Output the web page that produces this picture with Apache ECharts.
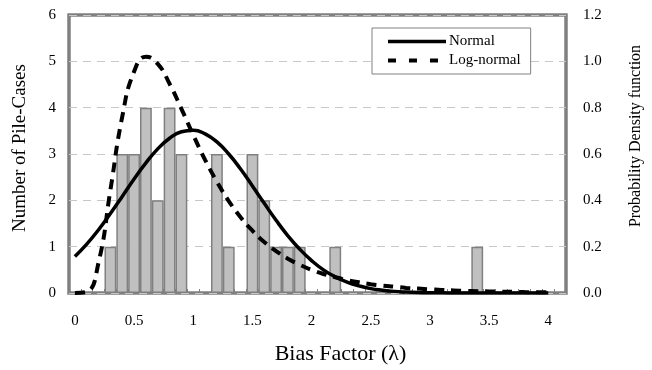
<!DOCTYPE html>
<html>
<head>
<meta charset="utf-8">
<script src="https://cdn.jsdelivr.net/npm/echarts@6/dist/echarts.min.js"></script>
<style>html,body{margin:0;padding:0;background:#fff;}#c{width:652px;height:370px;}</style>
</head>
<body>
<div id="c"></div>
<script>
// Bin categories (Bias factor, bin centres)
var categories = ["0","0.1","0.2","0.3","0.4","0.5","0.6","0.7","0.8","0.9",
  "1","1.1","1.2","1.3","1.4","1.5","1.6","1.7","1.8","1.9",
  "2","2.1","2.2","2.3","2.4","2.5","2.6","2.7","2.8","2.9",
  "3","3.1","3.2","3.3","3.4","3.5","3.6","3.7","3.8","3.9","4","4.1"];
// Histogram counts (Number of Pile-Cases)
var counts = [0,0,0,1,3,3,4,2,4,3,
  0,0,3,1,0,3,2,1,1,1,
  0,0,1,0,0,0,0,0,0,0,
  0,0,0,0,1,0,0,0,0,0,0,0];
// Probability density curves read at each bin centre (0 .. 4.0)
var normalPdf = [0.158,0.211,0.273,0.343,0.417,0.492,0.562,0.622,0.668,0.696,
  0.703,0.687,0.652,0.600,0.535,0.462,0.387,0.314,0.247,0.189,
  0.140,0.100,0.070,0.047,0.031,0.019,0.012,0.007,0.004,0.002,
  0.001,0.001,0,0,0,0,0,0,0,0,0];
var lognormalPdf = [0,0.005,0.132,0.445,0.761,0.956,1.020,0.989,0.903,0.795,
  0.682,0.575,0.480,0.397,0.327,0.269,0.220,0.181,0.148,0.122,
  0.100,0.082,0.068,0.056,0.046,0.038,0.032,0.027,0.022,0.019,
  0.016,0.013,0.011,0.009,0.008,0.007,0.006,0.005,0.004,0.0035,0.003];
var leftTicks = [0,1,2,3,4,5,6];
var rightTicks = [0,0.2,0.4,0.6,0.8,1.0,1.2];

var font = 'Liberation Serif';
var barData = counts.map(function (c) { return c === 0 ? '-' : c; });
var chart = echarts.init(document.getElementById('c'));
chart.setOption({
  animation: false,
  backgroundColor: '#fff',
  grid: {left: 69, right: 83, top: 15, bottom: 73, show: true,
    borderColor: '#808080', borderWidth: 3.5, backgroundColor: 'transparent'},
  legend: {
    left: 372, top: 28, orient: 'vertical',
    data: [
      {name: 'Normal', lineStyle: {width: 3.5, type: 'solid', color: '#000'}},
      {name: 'Log-normal', lineStyle: {width: 4, type: [8, 13], color: '#000'}}
    ],
    itemWidth: 58, itemHeight: 14, itemGap: 4,
    padding: [6, 10, 6, 14],
    backgroundColor: '#fff', borderColor: '#808080', borderWidth: 1,
    itemStyle: {opacity: 0},
    textStyle: {fontFamily: font, fontSize: 15, color: '#000', padding: [0,0,0,-2]}
  },
  xAxis: {
    type: 'category', data: categories,
    name: 'Bias Factor (\u03bb)', nameLocation: 'middle', nameGap: 50,
    nameTextStyle: {fontFamily: font, fontSize: 22, color: '#000', padding: [0, 0, 0, 46]},
    axisLine: {show: false},
    axisTick: {show: true, inside: true, interval: 0, length: 4, lineStyle: {color: '#808080', width: 1}},
    axisLabel: {interval: 4, fontFamily: font, fontSize: 15, color: '#000', margin: 21},
    splitLine: {show: false}
  },
  yAxis: [{
    type: 'value', min: leftTicks[0], max: leftTicks[leftTicks.length-1], interval: 1,
    name: 'Number of Pile-Cases', nameLocation: 'middle', nameGap: 39,
    nameTextStyle: {fontFamily: font, fontSize: 19, color: '#000', padding: [0, 0, 0, 12]},
    axisLine: {show: false}, axisTick: {show: false},
    axisLabel: {fontFamily: font, fontSize: 15, color: '#000', margin: 13},
    splitLine: {show: true, lineStyle: {color: '#c8c8c8', type: [8, 6], width: 1}}
  }, {
    type: 'value', min: rightTicks[0], max: rightTicks[rightTicks.length-1], interval: 0.2,
    position: 'right',
    name: 'Probability Density function', nameLocation: 'middle', nameGap: 62, nameRotate: 90,
    nameTextStyle: {fontFamily: font, fontSize: 16, color: '#000', padding: [0, 0, 0, 36]},
    axisLine: {show: false}, axisTick: {show: false},
    axisLabel: {fontFamily: font, fontSize: 15, color: '#000', margin: 17,
      formatter: function (v) { return v.toFixed(1); }},
    splitLine: {show: false}
  }],
  series: [{
    type: 'bar', data: barData, yAxisIndex: 0,
    barWidth: '100%',
    itemStyle: {color: '#c0c0c0', borderColor: '#808080', borderWidth: 1.5},
    z: 2
  }, {
    name: 'Normal', type: 'line', data: normalPdf, yAxisIndex: 1,
    smooth: true, symbol: 'none', showSymbol: false,
    lineStyle: {color: '#000', width: 3.5, type: 'solid'},
    itemStyle: {color: '#000'}, z: 4
  }, {
    name: 'Log-normal', type: 'line', data: lognormalPdf, yAxisIndex: 1,
    smooth: true, symbol: 'none', showSymbol: false,
    lineStyle: {color: '#000', width: 4, type: [10, 7]},
    itemStyle: {color: '#000'}, z: 3
  }]
});
</script>
</body>
</html>
